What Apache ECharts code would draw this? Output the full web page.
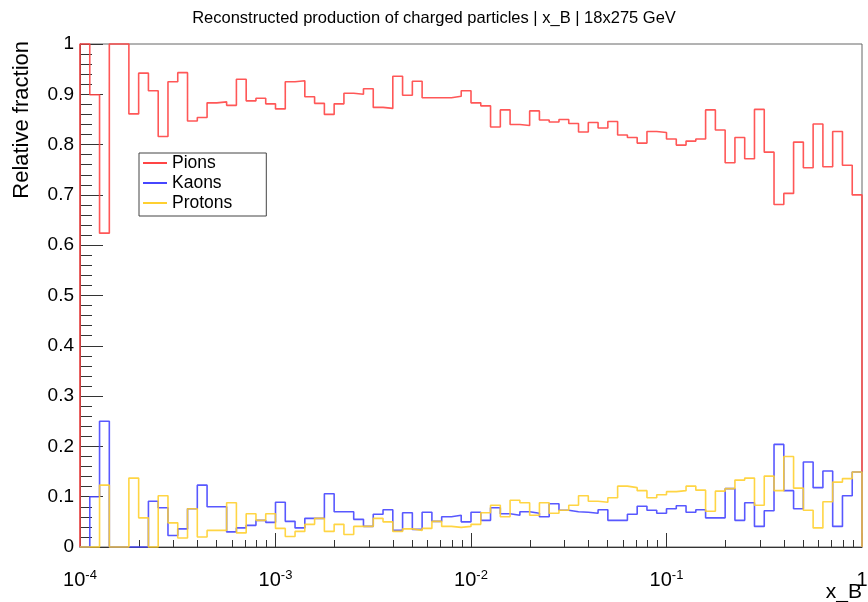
<!DOCTYPE html>
<html>
<head>
<meta charset="utf-8">
<script src="https://cdn.jsdelivr.net/npm/echarts@6/dist/echarts.min.js"></script>
<style>
html,body{margin:0;padding:0;background:#fff;}
#chart{width:868px;height:602px;}
</style>
</head>
<body>
<div id="chart"></div>
<script>
// Histogram: 80 log-spaced bins between 1e-4 and 1 (20 bins per decade)
const xMin = 1e-4, xMax = 1, binsPerDecade = 20, nBins = 80;
const seriesNames = ['Pions', 'Kaons', 'Protons'];
const pions = [
  1.000, 0.899, 0.624, 1.000, 1.000, 0.861, 0.942, 0.907, 0.816, 0.925,
  0.943, 0.847, 0.854, 0.883, 0.885, 0.878, 0.930, 0.887, 0.892, 0.881,
  0.871, 0.925, 0.927, 0.895, 0.882, 0.860, 0.881, 0.902, 0.900, 0.911,
  0.874, 0.872, 0.936, 0.898, 0.926, 0.893, 0.893, 0.893, 0.896, 0.907,
  0.883, 0.877, 0.835, 0.869, 0.840, 0.838, 0.867, 0.849, 0.845, 0.850,
  0.842, 0.825, 0.844, 0.833, 0.846, 0.819, 0.814, 0.803, 0.826, 0.824,
  0.811, 0.799, 0.807, 0.811, 0.869, 0.829, 0.764, 0.814, 0.772, 0.870,
  0.785, 0.681, 0.703, 0.805, 0.754, 0.841, 0.756, 0.826, 0.759, 0.700
];
const kaons = [
  0.000, 0.100, 0.250, 0.000, 0.000, 0.000, 0.000, 0.091, 0.078, 0.023,
  0.036, 0.076, 0.123, 0.080, 0.080, 0.030, 0.038, 0.043, 0.053, 0.049,
  0.089, 0.051, 0.038, 0.057, 0.057, 0.106, 0.070, 0.070, 0.055, 0.041,
  0.065, 0.074, 0.033, 0.068, 0.035, 0.069, 0.051, 0.060, 0.063, 0.050,
  0.069, 0.053, 0.078, 0.066, 0.063, 0.070, 0.067, 0.060, 0.086, 0.073,
  0.070, 0.069, 0.067, 0.074, 0.053, 0.053, 0.065, 0.081, 0.073, 0.067,
  0.076, 0.082, 0.069, 0.074, 0.058, 0.058, 0.116, 0.053, 0.088, 0.041,
  0.072, 0.204, 0.112, 0.076, 0.169, 0.118, 0.151, 0.041, 0.102, 0.149
];
const protons = [
  0.000, 0.000, 0.123, 0.000, 0.000, 0.137, 0.058, 0.000, 0.102, 0.048,
  0.018, 0.076, 0.020, 0.033, 0.033, 0.088, 0.028, 0.066, 0.053, 0.066,
  0.037, 0.021, 0.031, 0.045, 0.057, 0.031, 0.045, 0.025, 0.041, 0.041,
  0.057, 0.050, 0.031, 0.036, 0.033, 0.037, 0.051, 0.041, 0.039, 0.041,
  0.045, 0.068, 0.083, 0.060, 0.093, 0.088, 0.063, 0.088, 0.067, 0.073,
  0.083, 0.102, 0.091, 0.089, 0.098, 0.121, 0.118, 0.112, 0.098, 0.104,
  0.110, 0.112, 0.121, 0.113, 0.071, 0.111, 0.116, 0.133, 0.137, 0.083,
  0.141, 0.112, 0.180, 0.117, 0.073, 0.038, 0.090, 0.129, 0.136, 0.149
];
const yTicks = [0, 0.1, 0.2, 0.3, 0.4, 0.5, 0.6, 0.7, 0.8, 0.9, 1];
const xMinorTicks = [];
for (let d = -4; d < 0; d++) {
  for (let m = 2; m <= 9; m++) xMinorTicks.push(m * Math.pow(10, d));
}
const colors = ['#ff4545', '#4646ff', '#ffd030'];
const FONT = 'Liberation Sans, Arial, Helvetica, sans-serif';

function binEdge(i) { return Math.pow(10, (i - nBins) / binsPerDecade); }
function histData(vals) {
  const pts = [[binEdge(0), 0]];
  for (let i = 0; i < vals.length; i++) pts.push([binEdge(i), vals[i]]);
  pts.push([binEdge(nBins), vals[vals.length - 1]]);
  pts.push([binEdge(nBins), 0]);
  return pts;
}

const chart = echarts.init(document.getElementById('chart'), null, {renderer: 'canvas'});
const allVals = [pions, kaons, protons];
chart.setOption({
  animation: false,
  backgroundColor: '#fff',
  textStyle: {fontFamily: FONT},
  title: {
    text: 'Reconstructed production of charged particles | x_B | 18x275 GeV',
    left: 'center', top: 5,
    textStyle: {fontFamily: FONT, fontSize: 16.5, fontWeight: 'normal', color: '#000'}
  },
  grid: {
    left: 80, right: 6, top: 44, bottom: 55,
    show: true, borderColor: '#666', borderWidth: 1,
    outerBoundsMode: 'none', containLabel: false
  },
  legend: {
    orient: 'vertical', left: 139, top: 153,
    padding: [1, 34, 4, 4],
    itemGap: 2, itemWidth: 24, itemHeight: 2, icon: 'rect',
    borderColor: '#444', borderWidth: 1, backgroundColor: '#fff',
    textStyle: {fontFamily: FONT, fontSize: 17.5, lineHeight: 18, color: '#000'},
    data: seriesNames
  },
  xAxis: [{
    type: 'log', logBase: 10, min: xMin, max: xMax, splitNumber: 4,
    axisLine: {show: true, onZero: false, lineStyle: {color: '#333', width: 1}},
    axisTick: {show: true, inside: true, length: 14, lineStyle: {color: '#333'}},
    splitLine: {show: false},
    axisLabel: {
      show: true, margin: 22, color: '#000', fontFamily: FONT,
      showMinLabel: true, showMaxLabel: true, hideOverlap: false,
      formatter: function (v) {
        const e = Math.round(Math.log10(v));
        return e === 0 ? '{b|1}' : '{b|10}{s|' + e + '}';
      },
      rich: {
        b: {fontSize: 20, fontFamily: FONT, color: '#000', lineHeight: 22},
        s: {fontSize: 13, fontFamily: FONT, color: '#000', verticalAlign: 'top', lineHeight: 14}
      }
    }
  }, {
    type: 'log', logBase: 10, min: xMin, max: xMax, position: 'bottom',
    axisLine: {show: false},
    axisLabel: {show: false},
    splitLine: {show: false},
    axisTick: {show: true, inside: true, length: 7, customValues: xMinorTicks, lineStyle: {color: '#333'}}
  }],
  yAxis: {
    type: 'value', min: 0, max: 1, interval: 0.1,
    axisLine: {show: true, lineStyle: {color: '#333', width: 1}},
    axisTick: {show: true, inside: true, length: 23, lineStyle: {color: '#333'}},
    minorTick: {show: true, splitNumber: 5, length: 12, lineStyle: {color: '#333'}},
    splitLine: {show: false},
    axisLabel: {
      margin: 6, fontSize: 19, fontFamily: FONT, color: '#000',
      customValues: yTicks,
      formatter: function (v) { return (v === 0 || v === 1) ? String(v) : v.toFixed(1); }
    }
  },
  graphic: [{
    type: 'text', x: 22, y: 41, rotation: Math.PI / 2,
    style: {text: 'Relative fraction', font: '22px ' + FONT, fill: '#000', align: 'right', verticalAlign: 'middle'}
  }, {
    type: 'text', x: 862, y: 592,
    style: {text: 'x_B', font: '21px ' + FONT, fill: '#000', align: 'right', verticalAlign: 'middle'}
  }],
  series: seriesNames.map(function (name, k) {
    return {
      name: name, type: 'line', step: 'end', xAxisIndex: 0,
      showSymbol: false, symbol: 'none', clip: false,
      color: colors[k],
      lineStyle: {color: colors[k], width: 1.6, opacity: 0.9},
      data: histData(allVals[k])
    };
  })
});
</script>
</body>
</html>
